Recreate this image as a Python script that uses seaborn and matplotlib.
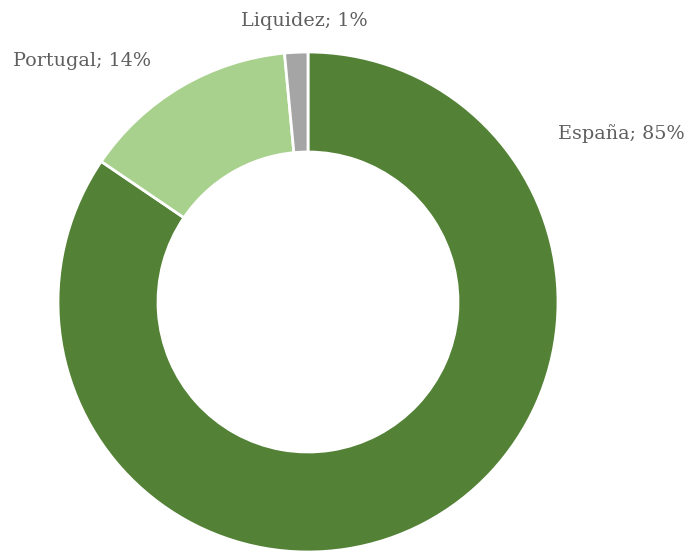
import matplotlib
matplotlib.use("Agg")
import matplotlib.pyplot as plt
import seaborn as sns

# datos
categorias = ["España", "Portugal", "Liquidez"]
valores = [84.5, 14.0, 1.5]
etiquetas = ["España; 85%", "Portugal; 14%", "Liquidez; 1%"]
colores = ["#538135", "#a9d18e", "#a5a5a5"]

sns.set_theme(style="white")
plt.rcParams['font.family'] = ['DejaVu Serif', 'DejaVu Sans']

fig = plt.figure(figsize=(6.92, 5.52), dpi=100)
ax = fig.add_axes([0, 0, 1, 1])

ax.pie(valores, colors=colores, startangle=90, counterclock=False,
       radius=1.0, wedgeprops=dict(width=0.4, edgecolor='white', linewidth=2))

# centro del donut en (308, 302) px, radio 250 px
ax.set_aspect('auto')
ax.set_xlim(-308 / 250, 384 / 250)
ax.set_ylim(-250 / 250, 302 / 250)
ax.axis('off')

# etiquetas (posiciones en fraccion de figura)
pos_etiquetas = [(0.898, 0.758), (0.118, 0.890), (0.440, 0.962)]
for txt, (x, y) in zip(etiquetas, pos_etiquetas):
    ax.text(x, y, txt, transform=fig.transFigure, ha='center', va='center',
            fontsize=13.8, color='#5f5f5f')

fig.savefig("out.png", dpi=100, facecolor='white')
